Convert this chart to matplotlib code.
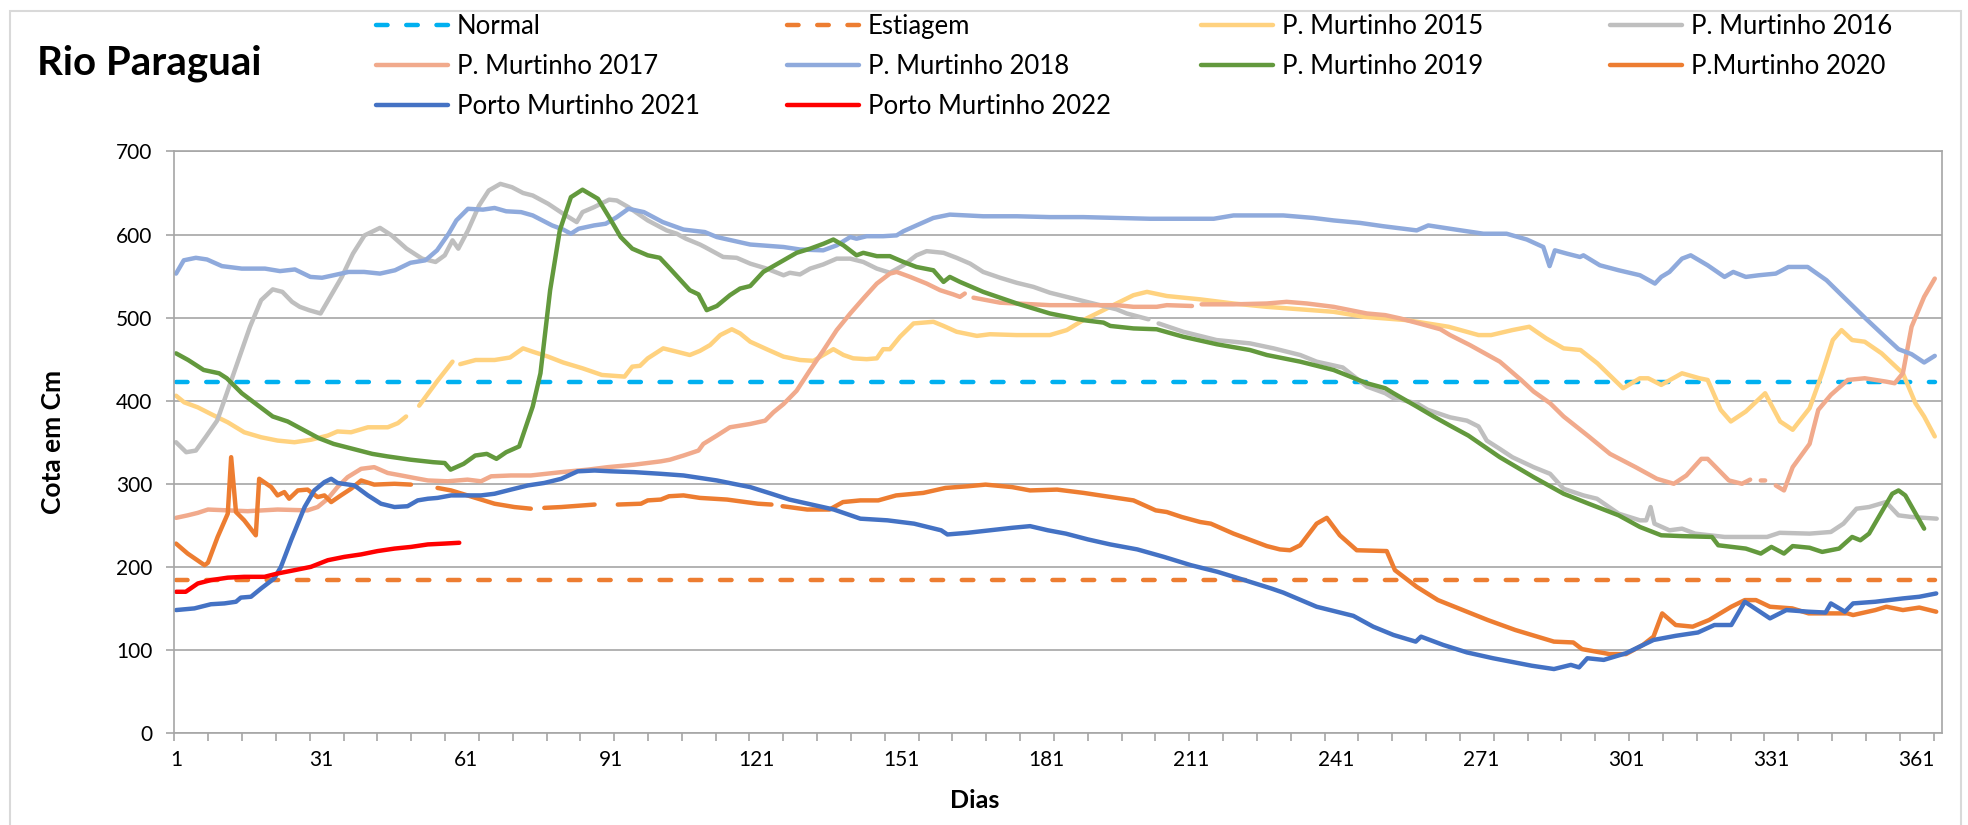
import numpy as np
import matplotlib.pyplot as plt
from matplotlib.patches import Rectangle

plt.rcParams['font.family'] = ['Lato', 'DejaVu Sans']

nan = float('nan')

# reference levels
normal_days = [1, 365]
normal_vals = [423, 423]
estiagem_days = [1, 365]
estiagem_vals = [184, 184]

# (day, level in cm); nan = missing data
pm2015 = [(1, 406), (2.7, 398), (5.5, 392), (8.2, 384), (11.7, 374), (15.1, 362), (18.6, 356), (22, 352),
          (25.5, 350), (28.9, 353), (32.4, 358), (34.4, 363), (37.2, 362), (40.7, 368), (44.8, 368),
          (46.9, 373), (48.6, 381), (50, nan), (51.3, 394), (55.1, 424), (58.2, 447), (59, nan),
          (59.8, 444), (63, 449), (66.9, 449), (70.1, 452), (72.8, 463), (74.8, 459), (78, 453),
          (81.1, 446), (85.1, 439), (89.1, 431), (93.8, 429), (95.4, 441), (97, 442), (98.6, 451),
          (101.8, 463), (104.6, 459), (107.3, 455), (109.4, 460), (111.5, 467), (113.6, 479), (116, 486),
          (117.7, 481), (119.8, 471), (123.2, 462), (126.7, 453), (130.1, 449), (132.9, 448), (134.9, 455),
          (137, 462), (139.1, 455), (141.1, 451), (143.9, 450), (146, 451), (147.3, 462), (148.7, 462),
          (150.8, 477), (153.6, 493), (157.7, 495), (159.8, 490), (162.5, 483), (166.7, 478), (169.4, 480),
          (174.9, 479), (181.8, 479), (185.3, 485), (188.7, 497), (192.2, 507), (195.6, 517), (199.1, 527),
          (201.9, 531), (206, 526), (212.9, 522), (219.8, 517), (226.7, 513), (233.6, 510), (240.5, 507),
          (246.8, 501), (255.6, 497), (264.3, 489), (270.5, 479), (273.1, 479), (277.5, 485), (281, 489),
          (284.5, 475), (288.1, 463), (291.6, 461), (295.1, 445), (300.4, 415), (303.9, 427), (305.6, 427),
          (308.3, 419), (312.6, 433), (316.2, 427), (317.9, 425), (320.6, 389), (322.7, 375), (325.8, 387),
          (329.8, 409), (332.9, 375), (335.5, 365), (339, 391), (341.6, 433), (343.8, 473), (345.6, 485),
          (347.8, 473), (350.4, 471), (353.9, 457), (358.3, 433), (360.9, 397), (362.7, 381), (364.9, 357)]

pm2016 = [(1, 350), (3.1, 338), (5.1, 340), (7.1, 356), (9.5, 376), (11.5, 409), (13.9, 449), (16.3, 489),
          (18.6, 521), (21, 534), (23, 531), (25, 519), (26.6, 513), (28.5, 509), (30.9, 505), (32.9, 525),
          (35.3, 549), (37.6, 577), (40, 599), (43.2, 608), (45.6, 599), (48.7, 583), (51.9, 571),
          (54.7, 567), (56.6, 575), (58.2, 593), (59.4, 583), (61.4, 605), (63.7, 635), (65.7, 653),
          (68.1, 661), (70.5, 657), (72.8, 650), (74.8, 647), (78, 637), (81.1, 625), (83.9, 615),
          (85.1, 627), (87.5, 633), (90.6, 642), (92.2, 641), (94.6, 633), (98.6, 617), (102.5, 605),
          (104.6, 601), (106.5, 595), (109.4, 588), (110.4, 585), (114.2, 573), (117, 572), (119.8, 565),
          (123.2, 559), (126.7, 551), (128, 554), (130.1, 552), (132.2, 559), (134.9, 564), (137.7, 571),
          (140.5, 571), (143.2, 567), (146, 559), (148.7, 554), (151.5, 563), (154.2, 575), (156.3, 580),
          (159.8, 578), (162.5, 572), (165.3, 565), (168, 555), (171.5, 548), (174.9, 542), (178.4, 537),
          (181.8, 530), (188.7, 520), (195.6, 510), (197.7, 505), (202.2, 498), (203.2, nan), (204.3, 493),
          (209.4, 483), (216.3, 473), (223.2, 469), (228.1, 463), (233.6, 455), (237, 447), (242.4, 440),
          (247.4, 417), (251.2, 409), (252.9, 403), (257.7, 397), (260, 389), (264.6, 380), (268.1, 376),
          (270.5, 369), (272.2, 352), (274.9, 342), (277.5, 332), (281.9, 320), (285.3, 312), (288.1, 294),
          (292.2, 286), (295, 282), (299.5, 264), (303.9, 256), (305.2, 256), (306.1, 272), (306.9, 252),
          (310, 244), (312.6, 246), (315.3, 240), (321.4, 236), (330.2, 236), (332.8, 241), (339, 240),
          (343.4, 242), (346, 252), (348.7, 270), (351.3, 272), (354.8, 278), (357.4, 262), (360.1, 260),
          (365.3, 258)]

pm2017 = [(1, 259), (3.4, 262), (5.5, 265), (7.6, 269), (11.7, 268), (15.8, 267), (22, 269), (28.2, 268),
          (30.3, 272), (32.4, 282), (34.4, 296), (36.5, 308), (39.3, 318), (42, 320), (44.8, 313),
          (47.6, 310), (50.3, 307), (53.1, 304), (57.2, 303), (61.3, 305), (64.1, 303), (66.2, 309),
          (70.3, 310), (74.4, 310), (80.7, 314), (86.2, 317), (90.3, 320), (95.8, 323), (101.3, 327),
          (103.2, 329), (106, 334), (109.1, 340), (110.1, 348), (112.9, 358), (115.6, 368), (119.8, 372),
          (122.9, 376), (124.6, 386), (126.7, 396), (129.4, 412), (132.2, 437), (135, 461), (137.7, 485),
          (140.5, 505), (143.2, 523), (146, 541), (148.7, 553), (150.1, 555), (152.9, 549), (156.3, 541),
          (159.1, 533), (161.8, 528), (163.2, 525), (164.2, 529), (165, nan), (166, 524), (171.5, 518),
          (174.9, 517), (181.8, 515), (188.7, 515), (195.6, 515), (199.1, 513), (203.9, 513), (206, 515),
          (211.2, 514), (212.2, nan), (213.2, 516), (219.8, 516), (226.7, 517), (230.8, 519), (235, 517),
          (240.5, 513), (247.4, 505), (251.2, 503), (254.3, 499), (258.2, 493), (262.6, 486), (264.6, 479),
          (268.7, 467), (274.9, 447), (279.3, 425), (281.9, 411), (285.3, 397), (288.1, 381), (293.3, 357),
          (297.7, 336), (303, 320), (307.4, 306), (310.9, 300), (313.5, 310), (316.6, 330), (317.9, 330),
          (322.3, 304), (325, 300), (326.7, 305), (327.8, nan), (328.9, 304), (329.8, 304), (330.8, nan),
          (332, 298), (333.7, 292), (335.5, 320), (339, 348), (340.8, 389), (343.4, 407), (346.9, 425),
          (350.4, 427), (354.8, 423), (356.6, 421), (358.3, 433), (360.1, 489), (362.7, 525), (364.9, 547)]

pm2018 = [(1, 553), (2.6, 569), (5.1, 572), (7.4, 570), (10.5, 562), (14.6, 559), (19.4, 559), (22.5, 556),
          (25.6, 558), (28.8, 549), (31.2, 548), (33.6, 551), (36.7, 555), (39.9, 555), (43.2, 553),
          (46.3, 557), (49.5, 566), (52.6, 569), (55, 581), (57.4, 601), (59, 617), (61.4, 631), (64.5, 630),
          (66.9, 632), (69.3, 628), (72.4, 627), (74.8, 623), (78.8, 611), (81.1, 606), (82.7, 601),
          (84.3, 607), (87.5, 611), (89.9, 613), (92.2, 621), (94.6, 631), (97.8, 627), (101.7, 615),
          (106, 606), (110.4, 603), (112.9, 597), (114.4, 595), (119.8, 588), (126.7, 585), (130.1, 582),
          (134.9, 581), (137.7, 587), (140.5, 597), (141.8, 595), (143.9, 598), (147.3, 598), (150.1, 599),
          (151.5, 604), (154.2, 611), (157.7, 620), (161.1, 624), (164.6, 623), (168, 622), (175, 622),
          (181.8, 621), (188.7, 621), (195.6, 620), (202.5, 619), (206, 619), (215.7, 619), (219.8, 623),
          (230.1, 623), (236.3, 620), (240.5, 617), (246, 614), (250.8, 610), (257.7, 605), (260.1, 611),
          (264.6, 607), (271.5, 601), (276.3, 601), (280.5, 594), (283.9, 585), (285.2, 562), (286.3, 581),
          (288.8, 577), (291.5, 573), (292.2, 575), (295.6, 563), (299.5, 557), (303.9, 551), (307, 541),
          (308.3, 549), (310, 555), (312.6, 571), (314.4, 575), (317.9, 563), (321.4, 549), (323.2, 555),
          (325.8, 549), (328.5, 551), (332, 553), (334.6, 561), (338.6, 561), (342.5, 545), (346, 525),
          (350.4, 500), (354.8, 476), (357.4, 462), (360.1, 456), (362.7, 446), (364.9, 454)]

pm2019 = [(1, 457), (3.5, 449), (6.7, 437), (9.9, 433), (11.5, 427), (14.6, 409), (17.8, 395), (21, 381),
          (24.1, 375), (27.3, 365), (30.5, 355), (33.6, 348), (37.6, 342), (41.6, 336), (44.7, 333),
          (49.5, 329), (54.2, 326), (56.6, 325), (57.8, 317), (60.5, 324), (62.9, 334), (65.3, 336),
          (67.3, 330), (69.3, 338), (72, 345), (74.8, 393), (76.4, 433), (78.4, 533), (80.4, 605),
          (82.7, 645), (85.1, 654), (88.3, 643), (90.6, 621), (93, 597), (95.4, 583), (98.6, 575),
          (101.1, 572), (103.2, 559), (107.3, 533), (109.1, 528), (110.8, 509), (112.9, 514), (115.6, 527),
          (117.7, 535), (119.8, 538), (122.5, 555), (126.7, 569), (129.4, 578), (132.2, 583), (135, 589),
          (137, 594), (139.1, 587), (141.8, 575), (143.2, 578), (146, 574), (148.7, 574), (151.5, 567),
          (154.2, 561), (157.7, 557), (159.8, 543), (161.1, 549), (163.2, 543), (168, 531), (175, 517),
          (181.8, 505), (188.7, 497), (192.9, 494), (194.3, 490), (199.1, 487), (203.9, 486), (209.4, 477),
          (216.3, 468), (223.2, 461), (226.7, 455), (233.6, 447), (240.5, 437), (247.4, 421), (251.2, 415),
          (252.9, 409), (257.7, 393), (261.2, 381), (264.6, 370), (268.4, 358), (274.9, 332), (281.9, 308),
          (288.1, 288), (293.3, 276), (299.5, 262), (303.9, 248), (308.3, 238), (312.6, 237), (318.8, 236),
          (320.1, 226), (325.8, 222), (328.9, 216), (331.1, 224), (333.7, 216), (335.5, 225), (339, 223),
          (341.6, 218), (345.1, 222), (347.8, 236), (349.5, 232), (351.3, 240), (353.9, 266), (356.1, 288),
          (357.4, 292), (358.8, 286), (362.7, 246)]

pm2020 = [(1, 228), (3.4, 216), (6.9, 202), (7.6, 205), (9.6, 236), (11.7, 264), (12.4, 332), (13.4, 266),
          (15.1, 256), (17.5, 238), (18.2, 306), (20.7, 296), (22, 286), (23.4, 290), (24.4, 282),
          (26.2, 292), (28.2, 293), (30.3, 284), (31.7, 286), (33.1, 278), (35.1, 286), (37.2, 294),
          (39.3, 304), (42, 299), (46.2, 300), (49.6, 299), (52, nan), (55.1, 295), (57.9, 292), (61.3, 286),
          (66.9, 276), (71, 272), (74.4, 270), (75.8, nan), (77.2, 271), (80.7, 272), (87.6, 275),
          (89.5, nan), (92.4, 275), (97.2, 276), (98.6, 280), (101.3, 281), (103, 285), (106, 286),
          (109.4, 283), (115, 281), (121.4, 276), (124.2, 275), (125.3, nan), (126.5, 273), (131.6, 269),
          (136.2, 269), (139, 278), (142.6, 280), (146.3, 280), (150, 286), (155.6, 289), (160.2, 295),
          (164.8, 297), (168.5, 299), (174, 296), (177.7, 292), (183.3, 293), (188.8, 289), (192.2, 286),
          (199.1, 280), (203.7, 268), (206, 266), (209.1, 260), (212.9, 254), (215.1, 252), (219.8, 240),
          (226.7, 225), (229.4, 221), (231.5, 220), (233.6, 226), (237, 252), (239.1, 259), (241.8, 238),
          (245.3, 220), (251.5, 219), (253.2, 196), (257.7, 176), (262.1, 160), (268.1, 146), (272.4, 136),
          (278.1, 124), (286.1, 110), (290.1, 109), (291.9, 101), (297.6, 95), (301, 95), (304.5, 106),
          (306.7, 116), (308.5, 144), (311.3, 130), (314.8, 128), (318.2, 136), (322.8, 152), (325.6, 160),
          (327.9, 160), (330.8, 152), (335.4, 150), (338.8, 144), (342.3, 144), (346.8, 144), (348, 142),
          (352.6, 148), (354.9, 152), (358.3, 148), (361.7, 151), (365.2, 146)]

pm2021 = [(1, 148), (4.8, 150), (8.2, 155), (11, 156), (13.4, 158), (14.4, 163), (16.5, 164), (18.6, 174),
          (21.3, 186), (22.7, 200), (24.8, 232), (27.6, 272), (29.6, 292), (31.7, 302), (33.1, 306),
          (34.4, 301), (37.9, 298), (40.7, 286), (43.4, 276), (46.2, 272), (48.9, 273), (51, 280),
          (53.1, 282), (55.1, 283), (57.9, 286), (60.7, 286), (64.1, 286), (66.9, 288), (70.3, 293),
          (73.8, 298), (77.2, 301), (80.7, 306), (84.1, 315), (87.6, 316), (91, 315), (95.8, 314),
          (101.3, 312), (106, 310), (112.9, 304), (116.3, 300), (119.8, 296), (124.2, 288), (127.9, 281),
          (132.5, 275), (137.1, 269), (142.6, 258), (148.2, 256), (153.7, 252), (159.3, 244), (160.6, 239),
          (164.8, 241), (169.4, 244), (174, 247), (177.7, 249), (181.4, 244), (185.1, 240), (189.7, 233),
          (194.3, 227), (199.9, 221), (205.4, 212), (211, 202), (216.5, 194), (222.1, 184), (227.6, 174),
          (230.1, 169), (237, 152), (244.6, 141), (248.7, 128), (252.9, 118), (257.5, 110), (258.6, 116),
          (263.2, 106), (268.1, 97), (273.5, 90), (281.5, 81), (286.1, 77), (289.6, 82), (291.3, 79),
          (293, 90), (296.4, 88), (301, 96), (306.7, 112), (311.3, 117), (315.9, 121), (319.3, 130),
          (322.8, 130), (325.6, 158), (330.8, 138), (334.2, 148), (338.8, 146), (342.3, 145), (343.4, 156),
          (346.3, 146), (348, 156), (352.6, 158), (358.3, 162), (361.7, 164), (365.2, 168)]

pm2022 = [(1, 170), (3, 170), (5.5, 180), (8.2, 184), (11.7, 187), (15.1, 188), (19.3, 188), (22, 192),
          (25.5, 196), (28.9, 200), (32.4, 208), (35.8, 212), (39.3, 215), (42.7, 219), (46.2, 222),
          (49.6, 224), (53.1, 227), (56.5, 228), (59.6, 229)]

series = [
    ("P. Murtinho 2015", pm2015, "#FFD27F"),
    ("P. Murtinho 2016", pm2016, "#BFBFBF"),
    ("P. Murtinho 2017", pm2017, "#F1AA8C"),
    ("P. Murtinho 2018", pm2018, "#8FAADC"),
    ("P. Murtinho 2019", pm2019, "#63993D"),
    ("P.Murtinho 2020", pm2020, "#ED7D31"),
    ("Porto Murtinho 2021", pm2021, "#4472C4"),
    ("Porto Murtinho 2022", pm2022, "#FF0000"),
]

grid_col = "#A6A6A6"
lw = 3.2

fig = plt.figure(figsize=(19.68, 8.25), dpi=100)
ax = fig.add_axes([0.0886, 0.1115, 0.8982, 0.7049])

lines = {}
dash = (0, (2.6, 4.2))
lines["Normal"], = ax.plot(normal_days, normal_vals, color="#00B0F0", lw=lw,
                           linestyle=dash, dash_capstyle="round", label="Normal")
lines["Estiagem"], = ax.plot(estiagem_days, estiagem_vals, color="#ED7D31", lw=lw,
                             linestyle=dash, dash_capstyle="round", label="Estiagem")
for name, pts, col in series:
    d, v = np.array(pts, dtype=float).T
    lines[name], = ax.plot(d, v, color=col, lw=lw, solid_capstyle="round",
                           solid_joinstyle="round", label=name)

x0, x1 = 0.65, 366.4
ax.set_xlim(x0, x1)
ax.set_ylim(0, 700)
ax.set_yticks(range(0, 701, 100))
ax.set_xticks(range(1, 362, 30))
ax.set_xticks(np.arange(x0, 366, 7), minor=True)
ax.tick_params(axis="x", which="major", length=0, pad=12, labelsize=15)
ax.tick_params(axis="x", which="minor", length=6, width=1.2, color=grid_col)
ax.tick_params(axis="y", length=6, width=1.2, color=grid_col, pad=10, labelsize=15)
ax.grid(axis="y", color=grid_col, lw=1.2)
ax.set_axisbelow(True)
for s in ax.spines.values():
    s.set_color(grid_col)
    s.set_linewidth(1.2)

# legend in 4 columns, filled row by row
cols = [["Normal", "P. Murtinho 2017", "Porto Murtinho 2021"],
        ["Estiagem", "P. Murtinho 2018", "Porto Murtinho 2022"],
        ["P. Murtinho 2015", "P. Murtinho 2019"],
        ["P. Murtinho 2016", "P.Murtinho 2020"]]
col_x = [376, 787, 1201, 1610]
for names, x in zip(cols, col_x):
    fig.legend([lines[n] for n in names], names, loc="upper left",
               bbox_to_anchor=(x / 1968, 1 - 14 / 825), bbox_transform=fig.transFigure,
               frameon=False, fontsize=18.5, handlelength=2.8, handletextpad=0.35,
               labelspacing=0.58, borderpad=0, borderaxespad=0)

fig.text(37 / 1968, 1 - 63 / 825, "Rio Paraguai", fontsize=29, fontweight="bold",
         ha="left", va="center")
fig.text(53 / 1968, 1 - 442 / 825, "Cota em Cm", fontsize=19, fontweight="bold",
         rotation=90, ha="center", va="center")
fig.text(975 / 1968, 1 - 800 / 825, "Dias", fontsize=18, fontweight="bold",
         ha="center", va="center")

fig.add_artist(Rectangle((10 / 1968, -0.05), 1951 / 1968, 1.05 - 11 / 825,
                         transform=fig.transFigure, fill=False, edgecolor="#D9D9D9", lw=1.5))

fig.savefig("out.png", dpi=100)
